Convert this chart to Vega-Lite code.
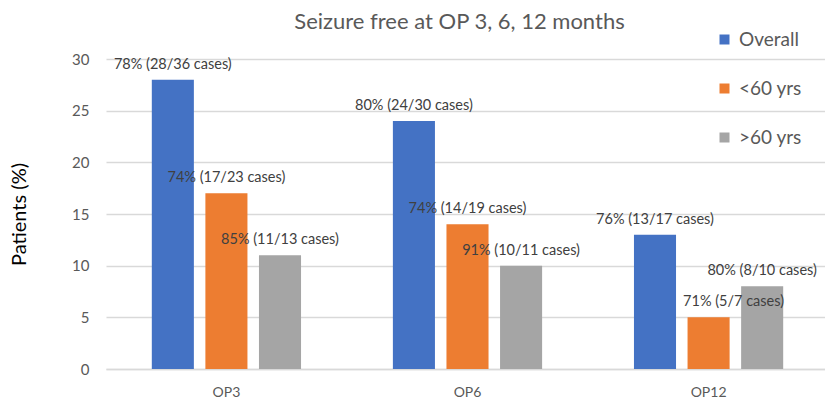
{
  "$schema": "https://vega.github.io/schema/vega-lite/v6.json",
  "autosize": {"type": "none"},
  "padding": {"left": 106, "top": 59, "right": 0, "bottom": 31},
  "width": 723,
  "height": 310,
  "background": "white",
  "title": {
    "text": "Seizure free at OP 3, 6, 12 months",
    "font": "Lato",
    "fontSize": 22,
    "fontWeight": "normal",
    "color": "#595959",
    "anchor": "middle",
    "baseline": "alphabetic",
    "offset": 29,
    "dx": -8,
    "dy": 50
  },
  "config": {
    "view": {"stroke": null},
    "font": "Lato"
  },
  "data": {
    "values": [
      {"period": "OP3", "group": "Overall", "value": 28, "label": "78% (28/36 cases)"},
      {"period": "OP3", "group": "<60 yrs", "value": 17, "label": "74% (17/23 cases)"},
      {"period": "OP3", "group": ">60 yrs", "value": 11, "label": "85% (11/13 cases)"},
      {"period": "OP6", "group": "Overall", "value": 24, "label": "80% (24/30 cases)"},
      {"period": "OP6", "group": "<60 yrs", "value": 14, "label": "74% (14/19 cases)"},
      {"period": "OP6", "group": ">60 yrs", "value": 10, "label": "91% (10/11 cases)"},
      {"period": "OP12", "group": "Overall", "value": 13, "label": "76% (13/17 cases)"},
      {"period": "OP12", "group": "<60 yrs", "value": 5, "label": "71% (5/7 cases)"},
      {"period": "OP12", "group": ">60 yrs", "value": 8, "label": "80% (8/10 cases)"}
    ]
  },
  "encoding": {
    "x": {
      "field": "period",
      "type": "nominal",
      "sort": ["OP3", "OP6", "OP12"],
      "scale": {"paddingInner": 0.381, "paddingOuter": 0.19},
      "axis": {
        "title": null,
        "labelAngle": 0,
        "labelFontSize": 14,
        "labelColor": "#595959",
        "labelPadding": 16,
        "ticks": false,
        "domainColor": "#d9d9d9",
        "domainWidth": 1.5
      }
    },
    "xOffset": {
      "field": "group",
      "type": "nominal",
      "sort": ["Overall", "<60 yrs", ">60 yrs"],
      "scale": {"paddingInner": 0.215, "paddingOuter": 0}
    },
    "y": {
      "field": "value",
      "type": "quantitative",
      "scale": {"domain": [0, 30]},
      "axis": {
        "title": "Patients (%)",
        "titleFontSize": 20,
        "titleFontWeight": "normal",
        "titleColor": "#000000",
        "titleAngle": 270,
        "titleX": -87,
        "titleY": 155,
        "titleAlign": "center",
        "titleBaseline": "middle",
        "values": [0, 5, 10, 15, 20, 25, 30],
        "labelFontSize": 15,
        "labelColor": "#595959",
        "labelPadding": 17,
        "ticks": false,
        "domain": false,
        "gridColor": "#d9d9d9",
        "gridWidth": 1.5
      }
    }
  },
  "layer": [
    {
      "mark": {"type": "bar"},
      "encoding": {
        "color": {
          "field": "group",
          "type": "nominal",
          "sort": ["Overall", "<60 yrs", ">60 yrs"],
          "scale": {
            "domain": ["Overall", "<60 yrs", ">60 yrs"],
            "range": ["#4472C4", "#ED7D31", "#A5A5A5"]
          },
          "legend": {
            "title": null,
            "orient": "none",
            "legendX": 609,
            "legendY": -29,
            "symbolType": "square",
            "symbolSize": 100,
            "symbolStrokeWidth": 0,
            "labelFontSize": 19,
            "labelColor": "#595959",
            "labelOffset": 5,
            "rowPadding": 29,
            "padding": 0
          }
        }
      }
    },
    {
      "transform": [{"filter": "!(datum.period == 'OP12' && datum.group == '<60 yrs')"}],
      "mark": {"type": "text", "baseline": "alphabetic", "dy": -11, "fontSize": 14.5, "color": "#404040", "font": "Lato"},
      "encoding": {"text": {"field": "label"}}
    },
    {
      "transform": [{"filter": "datum.period == 'OP12' && datum.group == '<60 yrs'"}],
      "mark": {"type": "text", "baseline": "alphabetic", "dy": -11, "dx": 25, "fontSize": 14.5, "color": "#404040", "font": "Lato"},
      "encoding": {"text": {"field": "label"}}
    }
  ]
}
